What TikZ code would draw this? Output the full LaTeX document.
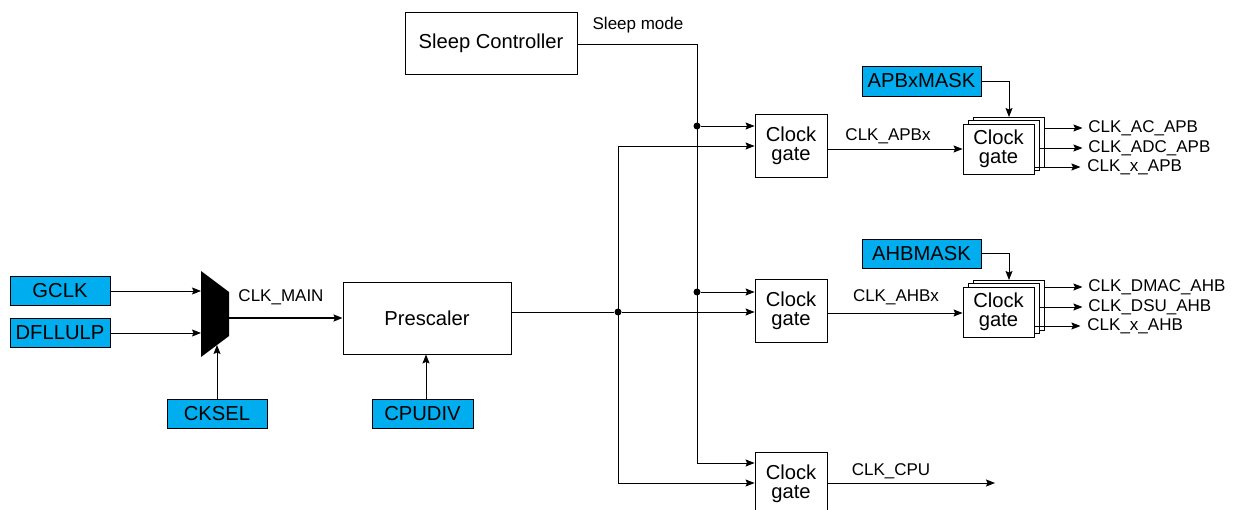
\documentclass[tikz,border=0pt]{standalone}
\usepackage{fontspec}
\setmainfont{Liberation Sans}
\usetikzlibrary{arrows.meta}
\definecolor{cyanbox}{RGB}{0,174,239}
\begin{document}
\begin{tikzpicture}[x=1pt,y=-1pt,
  line width=0.9pt,
  >={Stealth[length=9pt,width=7pt,inset=1.5pt]},
  blk/.style={draw, fill=white, inner sep=0pt, align=center,
    font=\fontsize{20.2}{19}\selectfont},
  inbox/.style={draw, fill=cyanbox, inner sep=0pt, minimum width=100pt,
    minimum height=29pt, font=\fontsize{20.2}{20}\selectfont},
  gatebox/.style={blk, minimum width=72pt, minimum height=63pt},
  sgate/.style={blk, minimum width=71pt, minimum height=50pt},
  lbl/.style={font=\fontsize{17}{17}\selectfont, inner sep=0pt},
  jdot/.style={circle, fill, inner sep=0pt, minimum size=7pt}]
\path[use as bounding box] (0,0) rectangle (1233,510);
\clip (0,0) rectangle (1233,510);

% inputs and mux
\node[inbox] (gclk) at (60,291) {GCLK};
\node[inbox] (dfll) at (60,333) {DFLLULP};
\node[inbox] (cksel) at (217,414) {CKSEL};
\fill (201,271) -- (229,292) -- (229,336) -- (201,357) -- cycle;
\coordinate (muxin1) at (201,291);
\coordinate (muxin2) at (201,333);
\coordinate (muxout) at (229,318);
\coordinate (muxsel) at (217,345);

% prescaler
\node[blk, minimum width=168pt, minimum height=72pt] (pre) at (427,318) {Prescaler};
\node[inbox, minimum width=101pt] (cpudiv) at (422.5,414) {CPUDIV};
\coordinate (cpuarr) at (426,399.5);

% sleep controller
\node[blk, minimum width=172pt, minimum height=62pt] (sleep) at (491,43) {Sleep Controller};

% clock gates
\node[gatebox] (g1) at (791,145.5) {Clock\\gate};
\node[gatebox] (g2) at (791,311) {Clock\\gate};
\node[gatebox] (g3) at (791,483.5) {Clock\\gate};

% APB stack
\node[sgate] (a2) at (1008.5,142) {};
\node[sgate] (a1) at (1003.5,145.5) {};
\node[sgate] (a0) at (998.5,149) {Clock\\gate};
\node[inbox, minimum width=119pt, minimum height=30pt] (apbmask) at (921.5,81) {APBxMASK};

% AHB stack
\node[sgate] (h2) at (1008.5,305) {};
\node[sgate] (h1) at (1003.5,308.5) {};
\node[sgate] (h0) at (998.5,312) {Clock\\gate};
\node[inbox, minimum width=119pt, minimum height=29pt] (ahbmask) at (921.5,253.5) {AHBMASK};

% mux connections
\draw[->] (gclk.east |- muxin1) -- (muxin1);
\draw[->] (dfll.east |- muxin2) -- (muxin2);
\draw[->] (cksel.north) -- (muxsel);
\draw[->, line width=1.8pt] (muxout) -- (pre.west |- muxout);
\node[lbl] (lmain) at (281,297) {CLK\_MAIN};
\draw[->] (cpuarr) -- (cpuarr |- pre.south);

% prescaler distribution
\coordinate (pout) at (511,312);
\node[jdot] (pj) at (618,312) {};
\coordinate (pt) at (618,146);
\coordinate (pb) at (618,483);
\draw (pout) -- (pj);
\draw[->] (pj) -- (g2.west |- pj);
\draw (pt) -- (pb);
\draw[->] (pt) -- (g1.west |- pt);
\draw[->] (pb) -- (g3.west |- pb);

% sleep distribution
\coordinate (sout) at (577,44);
\coordinate (sc) at (697,44);
\node[jdot] (sj1) at (697,126) {};
\node[jdot] (sj2) at (697,292) {};
\coordinate (sb) at (697,463);
\draw (sout) -- (sc) -- (sb);
\draw[->] (sj1) -- (g1.west |- sj1);
\draw[->] (sj2) -- (g2.west |- sj2);
\draw[->] (sb) -- (g3.west |- sb);
\node[lbl] (lsleep) at (638,25) {Sleep mode};

% gate outputs
\draw[->] (827,149) -- (a0.west |- 0,149);
\node[lbl] (lapb) at (888,136) {CLK\_APBx};
\draw[->] (827,313) -- (h0.west |- 0,313);
\node[lbl] (lahb) at (896,297) {CLK\_AHBx};
\coordinate (cpuend) at (995,483);
\draw[->] (g3.east |- cpuend) -- (cpuend);
\node[lbl] (lcpu) at (891,471) {CLK\_CPU};

% masks
\draw[->] (apbmask.east) -| (1009,117);
\draw[->] (ahbmask.east) -| (1009,280);

% APB outputs
\node[lbl, anchor=west] (o1) at (1088,128) {CLK\_AC\_APB};
\node[lbl, anchor=west] (o2) at (1088,148) {CLK\_ADC\_APB};
\node[lbl, anchor=west] (o3) at (1087,167) {CLK\_x\_APB};
\draw[->] (a2.east |- o1.west) -- ++(38,0);
\draw[->] (a1.east |- o2.west) -- ++(43,0);
\draw[->] (a0.east |- o3.west) -- ++(46,0);

% AHB outputs
\node[lbl, anchor=west] (p1) at (1088,287) {CLK\_DMAC\_AHB};
\node[lbl, anchor=west] (p2) at (1088,307) {CLK\_DSU\_AHB};
\node[lbl, anchor=west] (p3) at (1087,326) {CLK\_x\_AHB};
\draw[->] (h2.east |- p1.west) -- ++(38,0);
\draw[->] (h1.east |- p2.west) -- ++(43,0);
\draw[->] (h0.east |- p3.west) -- ++(46,0);
\end{tikzpicture}
\end{document}
